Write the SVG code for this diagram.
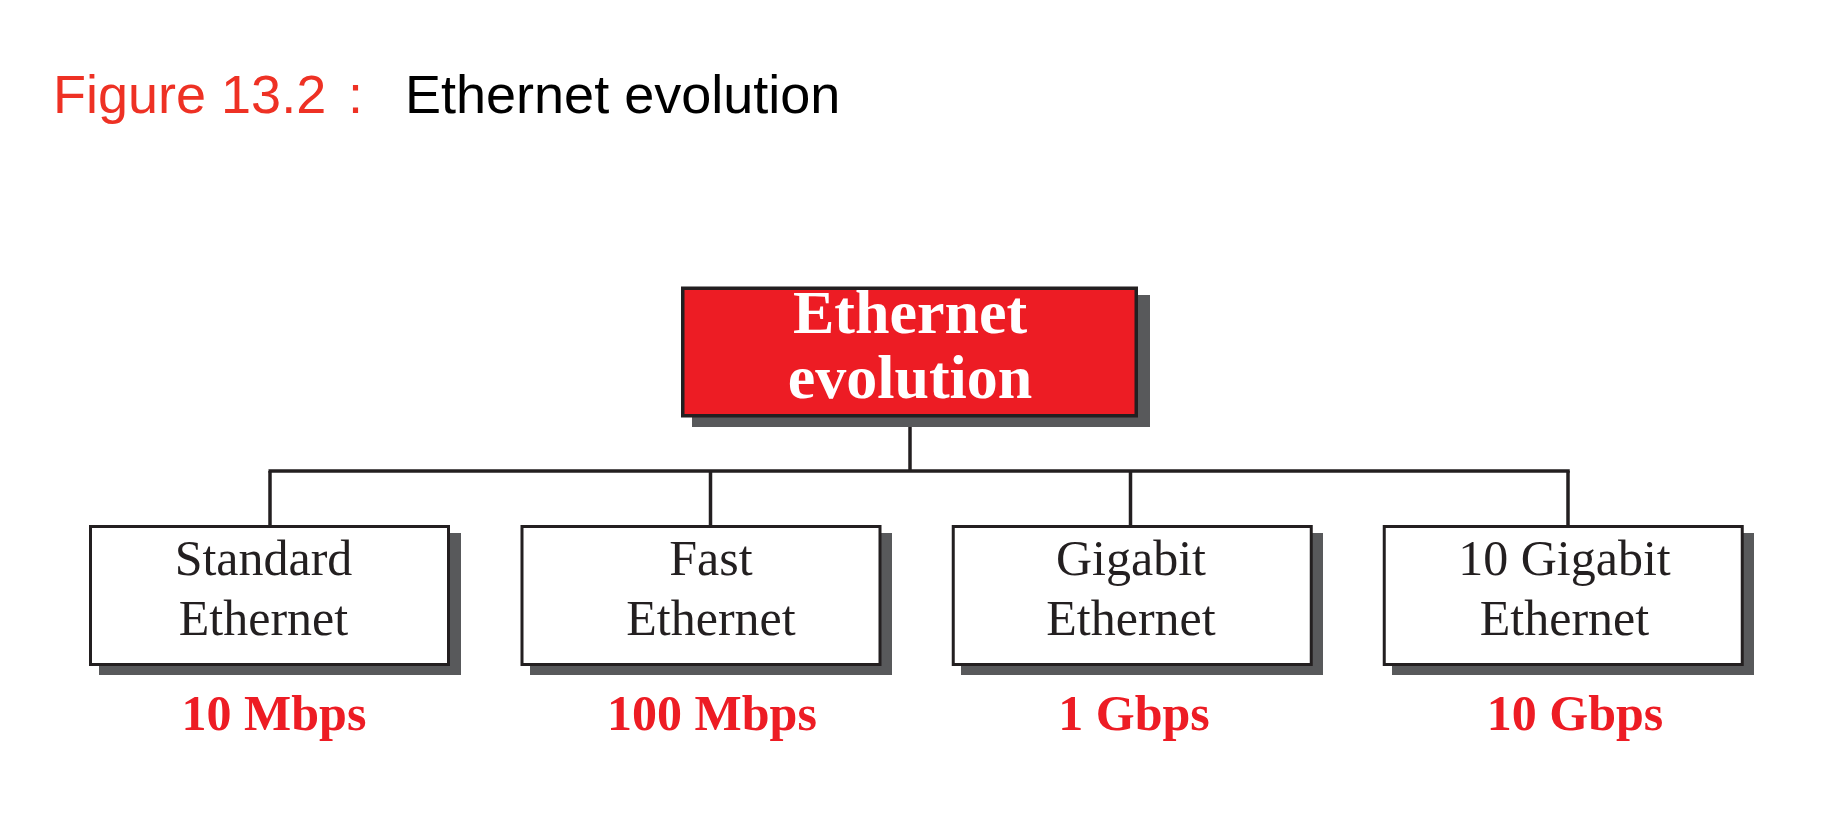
<svg xmlns="http://www.w3.org/2000/svg" width="1840" height="816" viewBox="0 0 1840 816">
  <style>
    .title { font-family: "Liberation Sans", Arial, sans-serif; font-size: 54px; }
    .box { fill: #FFFFFF; stroke: #231F20; stroke-width: 3; }
    .root { fill: #ED1C24; stroke: #231F20; stroke-width: 3.5; }
    .shadow { fill: #58595B; }
    .rootText { font-family: "Liberation Serif", "Times New Roman", serif; font-size: 62px; font-weight: bold; fill: #FFFFFF; text-anchor: middle; }
    .boxText { font-family: "Liberation Serif", "Times New Roman", serif; font-size: 50px; fill: #231F20; text-anchor: middle; }
    .rate { font-family: "Liberation Serif", "Times New Roman", serif; font-size: 50px; font-weight: bold; fill: #ED1C24; text-anchor: middle; }
    .conn { fill: none; stroke: #231F20; stroke-width: 3.5; }
  </style>
  <rect width="1840" height="816" fill="#FFFFFF"/>

  <g id="title">
    <text class="title" y="113"><tspan x="53" fill="#EE3124">Figure 13.2</tspan><tspan x="348" fill="#EE3124">:</tspan><tspan x="405" fill="#000000">Ethernet evolution</tspan></text>
  </g>

  <g id="connectors">
    <line class="conn" x1="910" y1="418" x2="910" y2="471"/>
    <line class="conn" x1="268.5" y1="471" x2="1569.75" y2="471"/>
    <line class="conn" x1="270" y1="471" x2="270" y2="526"/>
    <line class="conn" x1="710.5" y1="471" x2="710.5" y2="526"/>
    <line class="conn" x1="1130.5" y1="471" x2="1130.5" y2="526"/>
    <line class="conn" x1="1568" y1="471" x2="1568" y2="526"/>
  </g>

  <g id="root">
    <rect class="shadow" x="692" y="295" width="458" height="132"/>
    <rect class="root" x="682.75" y="288.25" width="453.5" height="127.5"/>
    <text class="rootText" x="910" y="333">Ethernet</text>
    <text class="rootText" x="910" y="398">evolution</text>
  </g>

  <g id="standard">
    <rect class="shadow" x="99" y="533" width="362" height="142"/>
    <rect class="box" x="90.5" y="526.5" width="358" height="138"/>
    <text class="boxText" x="263.5" y="575">Standard</text>
    <text class="boxText" x="263.5" y="635">Ethernet</text>
    <text class="rate" x="274" y="730">10 Mbps</text>
  </g>

  <g id="fast">
    <rect class="shadow" x="530" y="533" width="362" height="142"/>
    <rect class="box" x="522" y="526.5" width="358" height="138"/>
    <text class="boxText" x="711" y="575">Fast</text>
    <text class="boxText" x="711" y="635">Ethernet</text>
    <text class="rate" x="712" y="730">100 Mbps</text>
  </g>

  <g id="gigabit">
    <rect class="shadow" x="961" y="533" width="362" height="142"/>
    <rect class="box" x="953.25" y="526.5" width="358" height="138"/>
    <text class="boxText" x="1131" y="575">Gigabit</text>
    <text class="boxText" x="1131" y="635">Ethernet</text>
    <text class="rate" x="1134" y="730">1 Gbps</text>
  </g>

  <g id="tengigabit">
    <rect class="shadow" x="1392" y="533" width="362" height="142"/>
    <rect class="box" x="1384.25" y="526.5" width="358" height="138"/>
    <text class="boxText" x="1564.5" y="575">10 Gigabit</text>
    <text class="boxText" x="1564.5" y="635">Ethernet</text>
    <text class="rate" x="1575" y="730">10 Gbps</text>
  </g>
</svg>
